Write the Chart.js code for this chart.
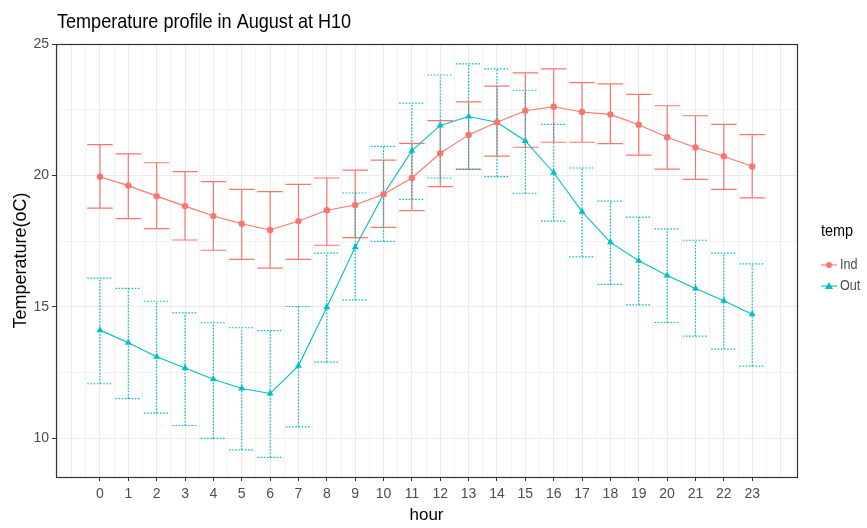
<!DOCTYPE html>
<html>
<head>
<meta charset="utf-8">
<title>Temperature profile in August at H10</title>
<script src="https://cdn.jsdelivr.net/npm/chart.js@4.4.1/dist/chart.umd.min.js"></script>
<style>
  html, body { margin: 0; padding: 0; background: #fff; }
  #wrap { width: 867px; height: 528px; position: relative; }
</style>
</head>
<body>
<div id="wrap"><canvas id="chart"></canvas></div>
<script>
// hourly means with lower / upper error bar limits
const hours = [0, 1, 2, 3, 4, 5, 6, 7, 8, 9, 10, 11, 12, 13, 14, 15, 16, 17, 18, 19, 20, 21, 22, 23];

const indMean = [19.95, 19.61, 19.21, 18.83, 18.45, 18.16, 17.92, 18.26, 18.67, 18.87, 19.28, 19.90,
                 20.84, 21.54, 22.02, 22.46, 22.61, 22.41, 22.32, 21.93, 21.45, 21.06, 20.73, 20.34];
const indHigh = [21.17, 20.82, 20.48, 20.14, 19.76, 19.47, 19.38, 19.66, 19.90, 20.20, 20.58, 21.22,
                 22.08, 22.80, 23.40, 23.90, 24.05, 23.53, 23.48, 23.08, 22.65, 22.27, 21.94, 21.55];
const indLow  = [18.75, 18.35, 17.97, 17.54, 17.15, 16.80, 16.47, 16.80, 17.34, 17.63, 18.02, 18.66,
                 19.57, 20.23, 20.73, 21.07, 21.26, 21.26, 21.21, 20.77, 20.24, 19.85, 19.47, 19.14];

const outMean = [14.11, 13.63, 13.10, 12.67, 12.24, 11.89, 11.70, 12.75, 14.98, 17.26, 19.28, 20.94,
                 21.90, 22.24, 22.02, 21.31, 20.10, 18.62, 17.45, 16.75, 16.19, 15.69, 15.23, 14.71];
const outHigh = [16.09, 15.70, 15.21, 14.77, 14.39, 14.20, 14.09, 15.01, 17.04, 19.33, 21.10, 22.75,
                 23.82, 24.24, 24.05, 23.24, 21.94, 20.28, 19.02, 18.41, 17.96, 17.53, 17.04, 16.63];
const outLow  = [12.07, 11.50, 10.95, 10.48,  9.99,  9.55,  9.27, 10.43, 12.89, 15.26, 17.49, 19.09,
                 19.90, 20.24, 19.95, 19.32, 18.26, 16.90, 15.85, 15.07, 14.40, 13.88, 13.39, 12.74];

const seriesNames = ['Ind', 'Out'];
const yTicks = [10, 15, 20, 25];
const yMinorTicks = [12.5, 17.5, 22.5];

const FONT = '"Liberation Sans", Arial, sans-serif';
const RED = '#F8766D';
const TEAL = '#00BFC4';
const TEXT = '#4D4D4D';

Chart.defaults.font.family = FONT;

function toPoints(ys) {
  return hours.map((h, i) => ({ x: h, y: ys[i] }));
}

// vertical bars with caps, drawn under the lines
const errorBars = {
  id: 'errorBars',
  beforeDatasetsDraw(chart) {
    const { ctx, scales: { x, y } } = chart;
    chart.data.datasets.forEach(ds => {
      ctx.save();
      ctx.strokeStyle = ds.borderColor;
      ctx.lineWidth = ds.errWidth;
      ctx.setLineDash(ds.errDash);
      hours.forEach((h, i) => {
        const px = x.getPixelForValue(h);
        const half = x.getPixelForValue(h + 0.45) - px;
        const yl = y.getPixelForValue(ds.errLow[i]);
        const yh = y.getPixelForValue(ds.errHigh[i]);
        ctx.beginPath();
        ctx.moveTo(px, yl); ctx.lineTo(px, yh);
        ctx.moveTo(px - half, yh); ctx.lineTo(px + half, yh);
        ctx.moveTo(px - half, yl); ctx.lineTo(px + half, yl);
        ctx.stroke();
      });
      ctx.restore();
    });
  }
};

// condensed text, the fonts here are a bit wide
function narrowText(ctx, text, x, y, squeeze) {
  ctx.save();
  ctx.translate(x, y);
  ctx.scale(squeeze, 1);
  ctx.fillText(text, 0, 0);
  ctx.restore();
}

// panel frame, plot title and the legend on the right
const decorations = {
  id: 'decorations',
  afterDraw(chart) {
    const { ctx, chartArea: a } = chart;
    ctx.save();
    ctx.strokeStyle = '#333333';
    ctx.lineWidth = 1.2;
    ctx.strokeRect(Math.round(a.left) + 0.5, Math.round(a.top) + 0.5,
                   Math.round(a.right - a.left), Math.round(a.bottom - a.top));

    ctx.fillStyle = '#000';
    ctx.font = '21px ' + FONT;
    ctx.textBaseline = 'alphabetic';
    ctx.textAlign = 'left';
    narrowText(ctx, 'Temperature profile in August at H10', 57, 28, 0.86);

    ctx.font = '16px ' + FONT;
    ctx.textBaseline = 'middle';
    narrowText(ctx, 'temp', 821, 232, 0.9);

    ctx.font = '14px ' + FONT;
    chart.data.datasets.forEach((ds, i) => {
      const ky = 265 + i * 21;
      ctx.strokeStyle = ds.borderColor;
      ctx.lineWidth = 1.1;
      ctx.setLineDash([]);
      ctx.beginPath();
      ctx.moveTo(821, ky); ctx.lineTo(837, ky);
      ctx.stroke();
      ctx.fillStyle = ds.borderColor;
      ctx.beginPath();
      if (ds.pointStyle === 'triangle') {
        ctx.moveTo(829, ky - 4); ctx.lineTo(833, ky + 3); ctx.lineTo(825, ky + 3);
      } else {
        ctx.arc(829, ky, 3, 0, Math.PI * 2);
      }
      ctx.fill();
      ctx.fillStyle = TEXT;
      narrowText(ctx, seriesNames[i], 840, ky, 0.9);
    });
    ctx.restore();
  }
};

function isHourTick(v) {
  return Number.isInteger(v) && v >= hours[0] && v <= hours[hours.length - 1];
}

new Chart(document.getElementById('chart'), {
  type: 'line',
  data: {
    datasets: [
      {
        label: seriesNames[0],
        data: toPoints(indMean),
        errLow: indLow, errHigh: indHigh, errDash: [], errWidth: 1.2,
        borderColor: RED, backgroundColor: RED,
        borderWidth: 1.1, pointStyle: 'circle', pointRadius: 3.2,
        pointBorderWidth: 0, tension: 0
      },
      {
        label: seriesNames[1],
        data: toPoints(outMean),
        errLow: outLow, errHigh: outHigh, errDash: [1.6, 1.6], errWidth: 1.2,
        borderColor: TEAL, backgroundColor: TEAL,
        borderWidth: 1.1, pointStyle: 'triangle', pointRadius: 4,
        pointBorderWidth: 0, tension: 0
      }
    ]
  },
  options: {
    responsive: true,
    maintainAspectRatio: false,
    animation: false,
    events: [],
    layout: { padding: { top: 44, right: 70, left: 0, bottom: 0 } },
    plugins: { legend: { display: false }, tooltip: { enabled: false }, title: { display: false } },
    scales: {
      x: {
        type: 'linear',
        min: -1.55,
        max: 24.58,
        afterBuildTicks(scale) {
          const t = [];
          for (let v = -1.5; v <= 24.5; v += 0.5) t.push({ value: v });
          scale.ticks = t;
        },
        afterFit(scale) { scale.height = 51; },
        border: { display: false },
        grid: {
          color: '#EBEBEB',
          lineWidth: ctx => (ctx.tick && Number.isInteger(ctx.tick.value) ? 1 : 0.6),
          tickLength: 4,
          tickColor: ctx => (ctx.tick && isHourTick(ctx.tick.value) ? '#333333' : 'rgba(0,0,0,0)')
        },
        ticks: {
          autoSkip: false,
          maxRotation: 0,
          padding: 5,
          color: TEXT,
          font: { size: 14 },
          callback: v => (isHourTick(v) ? String(v) : '')
        },
        title: {
          display: true, text: 'hour', color: '#000',
          font: { size: 17 }, padding: { top: 0, bottom: 2 }
        }
      },
      y: {
        type: 'linear',
        min: 8.52,
        max: 25,
        afterBuildTicks(scale) {
          scale.ticks = yTicks.concat(yMinorTicks).sort((a, b) => a - b).map(v => ({ value: v }));
        },
        afterFit(scale) { scale.width = 56; },
        border: { display: false },
        grid: {
          color: '#EBEBEB',
          lineWidth: ctx => (ctx.tick && yTicks.includes(ctx.tick.value) ? 1 : 0.6),
          tickLength: 4,
          tickColor: ctx => (ctx.tick && yTicks.includes(ctx.tick.value) ? '#333333' : 'rgba(0,0,0,0)')
        },
        ticks: {
          padding: 3,
          color: TEXT,
          font: { size: 14 },
          callback: v => (yTicks.includes(v) ? String(v) : '')
        },
        title: {
          display: true, text: 'Temperature(oC)', color: '#000',
          font: { size: 18 }, padding: { top: 10, bottom: 0 }
        }
      }
    }
  },
  plugins: [errorBars, decorations]
});
</script>
</body>
</html>
